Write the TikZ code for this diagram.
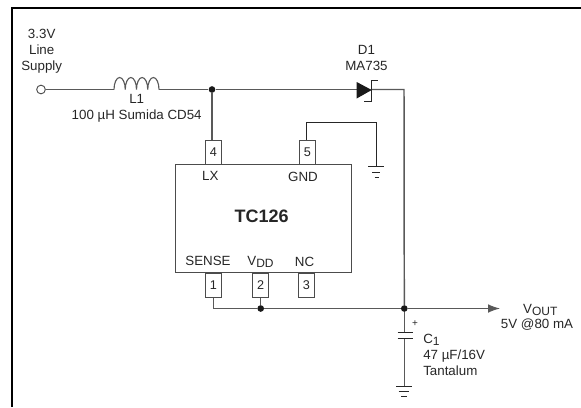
\documentclass[tikz,border=0pt]{standalone}
\usepackage{fontspec}
\setmainfont{Liberation Sans}
\usetikzlibrary{arrows.meta,positioning}
\newcommand{\sub}[1]{\raisebox{-0.3ex}{\fontsize{9}{10}\selectfont #1}}
\tikzset{
  x=0.75pt,y=-0.75pt,
  wire/.style={draw=black!65,line width=0.85pt},
  thin wire/.style={draw=black!85,line width=0.6pt},
  pin/.style={draw=black!70,fill=white,line width=0.75pt,minimum width=12pt,minimum height=18pt,inner sep=0pt,text=black!85,font=\fontsize{9.5}{10}\selectfont},
  lbl/.style={inner sep=0pt,text=black!85,align=center,font=\fontsize{10}{12}\selectfont},
  dot/.style={circle,fill=black!90,inner sep=0pt,minimum size=5pt},
}
\begin{document}
\begin{tikzpicture}
  \useasboundingbox (0,0) rectangle (581,407);
  \draw[black,line width=1.5pt] (11.7,407) -- (11.7,8) -- (581,8);
  % chip
  \node[draw=black!70,line width=0.75pt,minimum width=131.7pt,minimum height=81.5pt,inner sep=0pt] (chip) at (263.5,218.4) {};
  \node[lbl,font=\bfseries\fontsize{13.5}{15}\selectfont] (name) at (261.7,216) {TC126};
  \node[lbl] (lx) at (210.3,175.7) {LX};
  \node[lbl] (gnd) at (303,177) {GND};
  \node[lbl] (sense) at (208,261) {SENSE};
  \node[lbl] (vdd) at (260.5,262) {V\sub{DD}};
  \node[lbl] (nc) at (304.5,262) {NC};
  % pins
  \node[pin] (p4) at (213.5,152) {4};
  \node[pin] (p5) at (307.5,152) {5};
  \node[pin] (p1) at (213.5,285) {1};
  \node[pin] (p2) at (260.7,285) {2};
  \node[pin] (p3) at (306.3,285) {3};
  % input
  \node[draw=black!70,line width=0.7pt,circle,inner sep=0pt,minimum size=6.5pt] (in) at (41,89.5) {};
  \node[lbl] (supply) at (41.7,51) {3.3V\\Line\\Supply};
  \coordinate (la) at (114,89.5);
  \coordinate (lb) at (159,89.5);
  \node[dot] (j1) at (212,89.5) {};
  \draw[wire] (in) -- (la);
  \draw[wire] (la) arc (180:360:5.625 and 12) arc (180:360:5.625 and 12) arc (180:360:5.625 and 12) arc (180:360:5.625 and 12);
  \draw[wire] (lb) -- (j1);
  \draw[wire] (j1) -- (j1 |- p4.north);
  \node[lbl] (l1) at (136.7,108.5) {L1\\100 µH Sumida CD54};
  % diode
  \node[lbl] (d1) at (366.5,58) {D1\\MA735};
  \coordinate (da) at (357,89.5);
  \coordinate (dk) at (372,89.5);
  \coordinate (corner) at (404,89.5);
  \node[dot] (j2) at (404.3,308.5) {};
  \draw[wire] (j1) -- (da);
  \fill[black!90] (356.7,82) -- (371.7,90) -- (356.7,98.5) -- cycle;
  \draw[thin wire] (377.7,80) -- (371.2,80) -- (371.2,101.7) -- (364.3,101.7);
  \draw[wire,line width=1.1pt] (dk) -- (corner) -- (j2);
  % gnd of chip
  \coordinate (g1) at (376.7,166);
  \draw[thin wire] (306,139.7) -- (306,122.7) -- (376.7,122.7) -- (g1);
  \draw[thin wire] (368,166) -- (383.5,166) (372,172) -- (380,172) (374.5,177) -- (378.5,177);
  % bottom
  \node[dot] (j3) at (260.7,308.5) {};
  \draw[wire] (p1) |- (j3);
  \draw[wire] (p2) -- (j3);
  \draw[wire] (j3) -- (j2);
  \coordinate (out) at (500,308.5);
  \draw[wire,-{Latex[length=9pt,width=6.5pt]}] (j2) -- (out);
  \node[lbl,font=\fontsize{10}{11.2}\selectfont] (vout) at (537,317) {\hspace*{5pt}V\sub{OUT}\\5V @80 mA};
  % cap
  \coordinate (c1) at (404.3,332.3);
  \coordinate (c2) at (404.3,338.7);
  \coordinate (g2) at (404.3,386);
  \draw[wire,line width=1.1pt] (j2) -- (c1);
  \draw[wire,line width=1.1pt] (c2) -- (g2);
  \draw[thin wire] (397.5,332.3) -- (413.3,332.3) (397.5,338.7) -- (413.3,338.7);
  \node[lbl,font=\fontsize{7.5}{8}\selectfont] (plus) at (415,324) {+};
  \node[lbl,align=left,anchor=west] (c) at (423,355) {C\sub{1}\\47 µF/16V\\Tantalum};
  \draw[thin wire] (396,386) -- (411.7,386) (398.7,391.7) -- (409,391.7) (401,396) -- (406.7,396);
\end{tikzpicture}
\end{document}
